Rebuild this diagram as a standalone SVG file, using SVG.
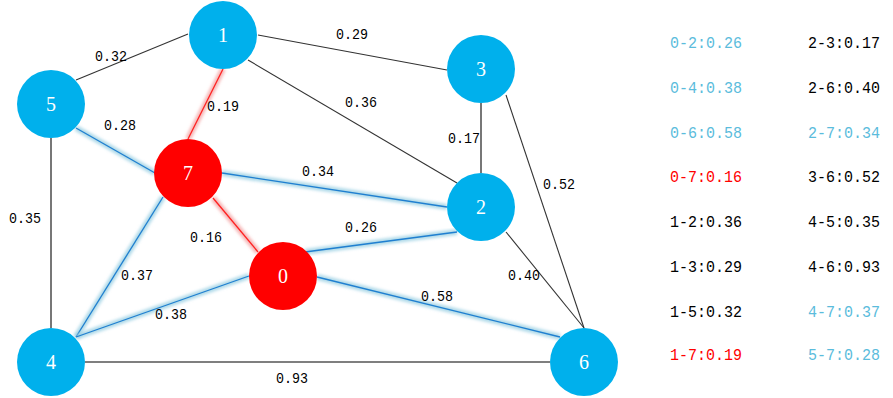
<svg xmlns="http://www.w3.org/2000/svg" width="893" height="398" viewBox="0 0 893 398">
<style>
.e{stroke:#333;stroke-width:1.1;fill:none}
.g{stroke:#555;stroke-width:1.6;fill:none}
.bg{stroke:#8fcbe0;stroke-width:6;stroke-opacity:0.7;fill:none;filter:url(#blur)}
.b{stroke:#1f7fd0;stroke-width:1.3;fill:none}
.rg{stroke:#f08a8a;stroke-width:6;stroke-opacity:0.6;fill:none;filter:url(#blur)}
.r{stroke:#ff2020;stroke-width:1.3;fill:none}
.nb{fill:#00b0ec}
.nr{fill:#ff0000}
.nl{font-family:"Liberation Serif",serif;font-size:20px;fill:#fff;text-anchor:middle;dominant-baseline:central}
.el{font-family:"Liberation Mono","DejaVu Sans Mono",monospace;font-size:15px;fill:#000;text-anchor:middle;dominant-baseline:central}
.lg{font-family:"Liberation Mono","DejaVu Sans Mono",monospace;font-size:17px;dominant-baseline:central}
.lb{fill:#5bbcdc}.lr{fill:#ff0000}.lk{fill:#000}
</style>
<defs>
<filter id="blur" x="-20%" y="-20%" width="140%" height="140%"><feGaussianBlur stdDeviation="1.5"/></filter>
</defs>
<g id="connectors">
<line class="e" x1="188" y1="34" x2="76" y2="80"/>
<line class="e" x1="258" y1="35" x2="447" y2="70"/>
<line class="e" x1="248" y1="60" x2="457" y2="183"/>
<line class="g" x1="51" y1="138" x2="51" y2="328"/>
<line class="g" x1="481" y1="103" x2="481" y2="173"/>
<line class="e" x1="506" y1="95" x2="584" y2="328"/>
<line class="e" x1="506" y1="232" x2="584" y2="328"/>
<line class="g" x1="85" y1="362" x2="550" y2="362"/>
<line class="rg" x1="223" y1="69" x2="188" y2="139"/>
<line class="r" x1="223" y1="69" x2="188" y2="139"/>
<line class="rg" x1="213" y1="198" x2="258" y2="252"/>
<line class="r" x1="213" y1="198" x2="258" y2="252"/>
<line class="bg" x1="76" y1="128" x2="155" y2="173"/>
<line class="b" x1="76" y1="128" x2="155" y2="173"/>
<line class="bg" x1="222" y1="173" x2="447" y2="207"/>
<line class="b" x1="222" y1="173" x2="447" y2="207"/>
<line class="bg" x1="163" y1="197" x2="76" y2="337"/>
<line class="b" x1="163" y1="197" x2="76" y2="337"/>
<line class="bg" x1="249" y1="276" x2="76" y2="337"/>
<line class="b" x1="249" y1="276" x2="76" y2="337"/>
<line class="bg" x1="305" y1="252" x2="457" y2="232"/>
<line class="b" x1="305" y1="252" x2="457" y2="232"/>
<line class="bg" x1="317" y1="277" x2="560" y2="337"/>
<line class="b" x1="317" y1="277" x2="560" y2="337"/>
<text class="el" x="111" y="57" textLength="32" lengthAdjust="spacingAndGlyphs">0.32</text>
<text class="el" x="352" y="35" textLength="32" lengthAdjust="spacingAndGlyphs">0.29</text>
<text class="el" x="223" y="107" textLength="32" lengthAdjust="spacingAndGlyphs">0.19</text>
<text class="el" x="361" y="103" textLength="32" lengthAdjust="spacingAndGlyphs">0.36</text>
<text class="el" x="120" y="126" textLength="32" lengthAdjust="spacingAndGlyphs">0.28</text>
<text class="el" x="464" y="139" textLength="32" lengthAdjust="spacingAndGlyphs">0.17</text>
<text class="el" x="318" y="172" textLength="32" lengthAdjust="spacingAndGlyphs">0.34</text>
<text class="el" x="559" y="185" textLength="32" lengthAdjust="spacingAndGlyphs">0.52</text>
<text class="el" x="25" y="219" textLength="32" lengthAdjust="spacingAndGlyphs">0.35</text>
<text class="el" x="206" y="238" textLength="32" lengthAdjust="spacingAndGlyphs">0.16</text>
<text class="el" x="361" y="228" textLength="32" lengthAdjust="spacingAndGlyphs">0.26</text>
<text class="el" x="137" y="276" textLength="32" lengthAdjust="spacingAndGlyphs">0.37</text>
<text class="el" x="524" y="276" textLength="32" lengthAdjust="spacingAndGlyphs">0.40</text>
<text class="el" x="437" y="297" textLength="32" lengthAdjust="spacingAndGlyphs">0.58</text>
<text class="el" x="171" y="315" textLength="32" lengthAdjust="spacingAndGlyphs">0.38</text>
<text class="el" x="292" y="379" textLength="32" lengthAdjust="spacingAndGlyphs">0.93</text>
</g>
<g id="node-1"><circle class="nb" cx="223" cy="35" r="34"/><text class="nl" x="223" y="35">1</text></g>
<g id="node-3"><circle class="nb" cx="481" cy="69" r="34"/><text class="nl" x="481" y="69">3</text></g>
<g id="node-5"><circle class="nb" cx="51" cy="104" r="34"/><text class="nl" x="51" y="104">5</text></g>
<g id="node-7"><circle class="nr" cx="188" cy="173" r="34"/><text class="nl" x="188" y="173">7</text></g>
<g id="node-2"><circle class="nb" cx="481" cy="207" r="34"/><text class="nl" x="481" y="207">2</text></g>
<g id="node-0"><circle class="nr" cx="283" cy="276" r="34"/><text class="nl" x="283" y="276">0</text></g>
<g id="node-4"><circle class="nb" cx="51" cy="362" r="34"/><text class="nl" x="51" y="362">4</text></g>
<g id="node-6"><circle class="nb" cx="584" cy="362" r="34"/><text class="nl" x="584" y="362">6</text></g>
<g id="legend">
<text class="lg lb" x="670" y="43" textLength="72" lengthAdjust="spacingAndGlyphs">0-2:0.26</text>
<text class="lg lb" x="670" y="88" textLength="72" lengthAdjust="spacingAndGlyphs">0-4:0.38</text>
<text class="lg lb" x="670" y="133" textLength="72" lengthAdjust="spacingAndGlyphs">0-6:0.58</text>
<text class="lg lr" x="670" y="177" textLength="72" lengthAdjust="spacingAndGlyphs">0-7:0.16</text>
<text class="lg lk" x="670" y="222" textLength="72" lengthAdjust="spacingAndGlyphs">1-2:0.36</text>
<text class="lg lk" x="670" y="267" textLength="72" lengthAdjust="spacingAndGlyphs">1-3:0.29</text>
<text class="lg lk" x="670" y="312" textLength="72" lengthAdjust="spacingAndGlyphs">1-5:0.32</text>
<text class="lg lr" x="670" y="355" textLength="72" lengthAdjust="spacingAndGlyphs">1-7:0.19</text>
<text class="lg lk" x="808" y="43" textLength="72" lengthAdjust="spacingAndGlyphs">2-3:0.17</text>
<text class="lg lk" x="808" y="88" textLength="72" lengthAdjust="spacingAndGlyphs">2-6:0.40</text>
<text class="lg lb" x="808" y="133" textLength="72" lengthAdjust="spacingAndGlyphs">2-7:0.34</text>
<text class="lg lk" x="808" y="177" textLength="72" lengthAdjust="spacingAndGlyphs">3-6:0.52</text>
<text class="lg lk" x="808" y="222" textLength="72" lengthAdjust="spacingAndGlyphs">4-5:0.35</text>
<text class="lg lk" x="808" y="267" textLength="72" lengthAdjust="spacingAndGlyphs">4-6:0.93</text>
<text class="lg lb" x="808" y="312" textLength="72" lengthAdjust="spacingAndGlyphs">4-7:0.37</text>
<text class="lg lb" x="808" y="355" textLength="72" lengthAdjust="spacingAndGlyphs">5-7:0.28</text>
</g>
</svg>
